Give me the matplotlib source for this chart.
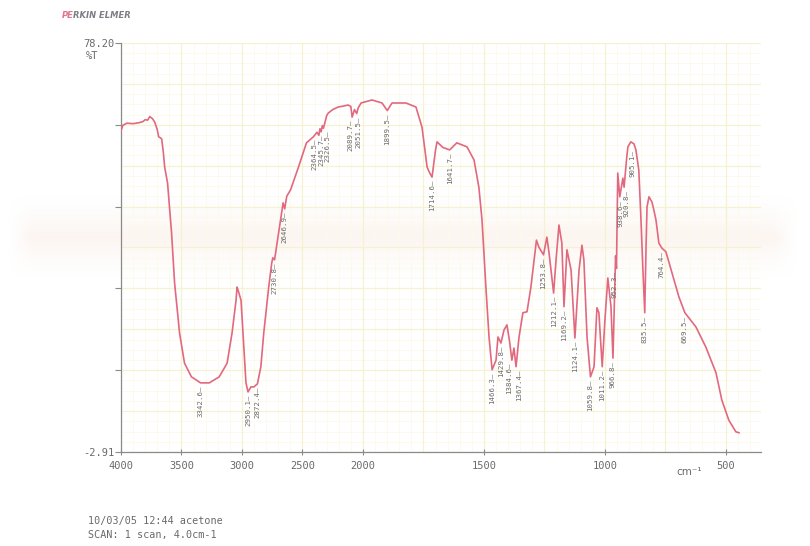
import numpy as np
import matplotlib
matplotlib.use("Agg")
import matplotlib.pyplot as plt
from matplotlib.transforms import blended_transform_factory

# ---- spectrum (wavenumber in cm-1, transmittance in %T) ----
wavenumber = [
    4000, 3984, 3950, 3900, 3850, 3820, 3800, 3780, 3762, 3740, 3721, 3700,
    3689, 3675, 3664, 3650, 3639, 3615, 3582, 3557, 3516, 3475, 3418, 3342.6,
    3270, 3188, 3123, 3082, 3049, 3041, 3030, 3008, 2992, 2967, 2950.1, 2926,
    2902, 2872.4, 2844, 2820, 2779, 2754, 2745, 2730.8, 2710, 2697, 2672, 2660,
    2646.9, 2630, 2598, 2533, 2467, 2410, 2380, 2364.5, 2355, 2345.7, 2336,
    2326.5, 2300, 2287, 2250, 2205, 2160, 2123, 2100, 2089.7, 2070, 2051.5,
    2040, 2016, 1963, 1921, 1899.5, 1880, 1822, 1781, 1756, 1735, 1725,
    1714.6, 1700, 1694, 1670, 1641.7, 1612, 1570, 1541, 1521, 1508, 1492,
    1479, 1466.3, 1450, 1442, 1429.8, 1417, 1405, 1394, 1384.6, 1376, 1367.4,
    1355, 1339, 1322, 1306, 1289, 1283, 1273, 1253.8, 1240, 1231, 1212.1,
    1202, 1190, 1178, 1169.2, 1157, 1140, 1124.1, 1107, 1095, 1087, 1074,
    1059.8, 1045, 1033, 1025, 1011.2, 1000, 988, 975, 966.8, 960, 956,
    952.3, 947, 938.6, 926, 920.8, 910, 905.1, 893, 880, 872, 860, 851, 843,
    835.5, 830, 826, 818, 806, 798, 789, 777, 764.4, 748, 723, 694, 669.5,
    624, 583, 541, 517, 488, 459, 446,
]
transmittance = [
    60.8, 61.9, 62.3, 62.2, 62.4, 62.6, 63.0, 62.9, 63.6, 63.2, 62.5, 61.0,
    59.6, 59.4, 59.2, 56.5, 53.6, 50.4, 40.5, 30.6, 20.7, 14.7, 12.0, 10.8,
    10.8, 12.0, 14.7, 20.7, 27.2, 29.8, 29.0, 27.2, 20.7, 10.8, 9.0, 10.0,
    10.0, 10.6, 14.0, 20.7, 29.8, 34.6, 35.6, 35.2, 38.5, 40.5, 44.5, 46.5,
    45.3, 47.8, 49.1, 53.6, 58.4, 59.6, 60.5, 59.9, 61.2, 60.6, 61.8,
    61.3, 63.8, 64.3, 65.0, 65.5, 65.7, 65.9, 65.6, 63.5, 65.0, 64.2,
    65.3, 66.3, 66.9, 66.3, 64.8, 66.3, 66.3, 65.5, 61.5, 53.6, 52.5,
    51.6, 57.0, 58.6, 57.5, 57.0, 58.4, 57.6, 55.0, 49.6, 43.1, 29.8,
    19.9, 13.4, 15.3, 19.9, 18.7, 21.3, 22.3, 19.0, 15.3, 17.7, 14.0,
    19.9, 24.7, 24.9, 29.8, 36.6, 39.1, 37.7, 36.2, 39.7, 36.6, 28.6,
    35.2, 42.1, 38.5, 25.9, 37.2, 33.2, 19.7, 33.2, 38.1, 35.2, 19.9,
    12.0, 14.0, 25.7, 24.7, 14.0, 23.3, 31.6, 25.9, 15.7, 28.0, 36.0,
    33.5, 52.4, 47.7, 51.4, 49.6, 55.5, 57.6, 58.6, 58.2, 57.0, 53.0, 43.1, 33.2,
    24.7, 38.0, 45.7, 47.7, 46.7, 45.1, 43.1, 38.5, 37.5, 36.8, 32.6, 27.8, 24.7,
    21.9, 17.9, 12.8, 7.4, 3.4, 1.1, 0.9,
]

# bands picked by the peak finder
peak_positions = [
    3342.6, 2950.1, 2872.4, 2730.8, 2646.9, 2364.5, 2345.7, 2326.5, 2089.7,
    2051.5, 1899.5, 1714.6, 1641.7, 1466.3, 1429.8, 1384.6, 1367.4, 1253.8,
    1212.1, 1169.2, 1124.1, 1059.8, 1011.2, 966.8, 952.3, 938.6, 920.8,
    905.1, 835.5, 764.4, 669.5,
]
# sideways nudges (points) for crowded band labels
label_nudge = {2364.5: -3.0, 2326.5: 3.0, 2089.7: -1.5, 2051.5: 1.5,
               1384.6: -2.0, 1367.4: 2.0, 952.3: -1.5, 938.6: 0.5,
               920.8: 1.5, 905.1: 3.0}

x_ticks = [4000, 3500, 3000, 2500, 2000, 1500, 1000, 500]
y_top, y_bottom = 78.20, -2.91

TRACE = "#e2687f"
TEXT = "#6a6a6a"
MONO = "DejaVu Sans Mono"


# abscissa expansion x2 below 2000 cm-1
def fwd(w):
    w = np.asarray(w, dtype=float)
    return np.where(w > 2000, 2000 + (w - 2000) / 2.0, w)


def inv(u):
    u = np.asarray(u, dtype=float)
    return np.where(u > 2000, 2000 + (u - 2000) * 2.0, u)


fig = plt.figure(figsize=(8.10, 5.46), dpi=100)
fig.patch.set_facecolor("white")

# faint warm band across the sheet
bg = fig.add_axes([0, 0, 1, 1], zorder=0)
bg.set_axis_off()
rows = np.linspace(0, 1, 546)[:, None]
centre, half = 1 - 237 / 546, 44 / 546
alpha = np.clip(1 - np.abs(rows - centre) / half, 0, 1) ** 1.5 * 0.28
cols = np.linspace(0, 1, 810)[None, :]
edge = np.clip(np.minimum(cols - 0.01, 0.985 - cols) / 0.03, 0, 1)
img = np.zeros((546, 810, 4))
img[..., 0] = 0.96
img[..., 1] = 0.86
img[..., 2] = 0.80
img[..., 3] = alpha * edge
bg.imshow(img, extent=[0, 1, 0, 1], origin="lower", aspect="auto")
bg.set_xlim(0, 1)
bg.set_ylim(0, 1)

ax = fig.add_axes([121 / 810, 1 - 452 / 546, (761 - 121) / 810, (452 - 43) / 546], zorder=1)
ax.patch.set_alpha(0)
ax.set_xscale("function", functions=(fwd, inv))
ax.set_xlim(4000, 355)
ax.set_ylim(y_bottom, y_top)

# chart-paper grid
x_major = [4000, 3500, 3000, 2500, 2000, 1750, 1500, 1250, 1000, 750, 500]
x_minor = list(range(3900, 2000, -100)) + list(range(1950, 360, -50))
y_major = np.linspace(y_bottom, y_top, 11)
y_minor = np.linspace(y_bottom, y_top, 41)
for w in x_minor:
    ax.axvline(w, color="#fcfaea", lw=0.6, zorder=0)
for t in y_minor:
    ax.axhline(t, color="#fcfaea", lw=0.6, zorder=0)
for w in x_major:
    ax.axvline(w, color="#f6f2d0", lw=0.9, zorder=0)
for t in y_major:
    ax.axhline(t, color="#f6f2d0", lw=0.9, zorder=0)

ax.plot(wavenumber, transmittance, color=TRACE, lw=1.2, zorder=3,
        solid_joinstyle="round")

# band labels hanging under each minimum
for p in peak_positions:
    t = float(np.interp(p, wavenumber[::-1], transmittance[::-1]))
    ax.annotate(f"{p:.1f}\u2014", xy=(p, t), xytext=(label_nudge.get(p, 0.0), -2),
                textcoords="offset points", rotation=90, ha="center",
                va="top", fontsize=5.3, color=TEXT, family=MONO, zorder=4)

for side in ("top", "right"):
    ax.spines[side].set_visible(False)
for side in ("left", "bottom"):
    ax.spines[side].set_color("#8a8a8a")
    ax.spines[side].set_linewidth(0.9)

ax.set_xticks(x_ticks)
ax.set_xticklabels([str(v) for v in x_ticks])
ax.xaxis.set_minor_locator(matplotlib.ticker.NullLocator())
ax.tick_params(axis="x", direction="inout", length=5, width=0.8,
               colors="#8a8a8a", labelcolor=TEXT, labelsize=7.5, pad=4)
for lab in ax.get_xticklabels():
    lab.set_family(MONO)

y_ticks = np.linspace(y_bottom, y_top, 6)
ax.set_yticks(y_ticks)
ax.set_yticklabels([f"{y_bottom:.2f}", "", "", "", "", f"{y_top:.2f}"])
ax.tick_params(axis="y", direction="out", length=4, width=0.8,
               colors="#8a8a8a", labelcolor=TEXT, labelsize=7.5, pad=1)
for lab in ax.get_yticklabels():
    lab.set_family(MONO)

ax.text(-0.045, 0.968, "%T", transform=ax.transAxes, ha="center", va="center",
        fontsize=7.5, color=TEXT, family=MONO)

trans = blended_transform_factory(ax.transData, ax.transAxes)
ax.text(650, -0.048, "cm\u207b\u00b9", transform=trans, ha="center", va="center",
        fontsize=7.5, color=TEXT, family="DejaVu Sans")

# maker's mark and run notes
pe = fig.text(62 / 810, 1 - 15 / 546, "PE", ha="left", va="center", fontsize=6,
              color="#e2738a", style="italic", weight="bold", family="DejaVu Sans")
plt.annotate("RKIN ELMER", xy=(1, 0.5), xycoords=pe, xytext=(-0.3, 0),
             textcoords="offset points", ha="left", va="center",
             fontsize=6, color="#7d7d85", style="italic", weight="bold",
             family="DejaVu Sans", annotation_clip=False)
fig.text(88 / 810, 1 - 521 / 546, "10/03/05 12:44 acetone", ha="left",
         va="center", fontsize=7.3, color=TEXT, family=MONO)
fig.text(88 / 810, 1 - 535 / 546, "SCAN: 1 scan, 4.0cm-1", ha="left",
         va="center", fontsize=7.3, color=TEXT, family=MONO)

fig.savefig("out.png", dpi=100)
